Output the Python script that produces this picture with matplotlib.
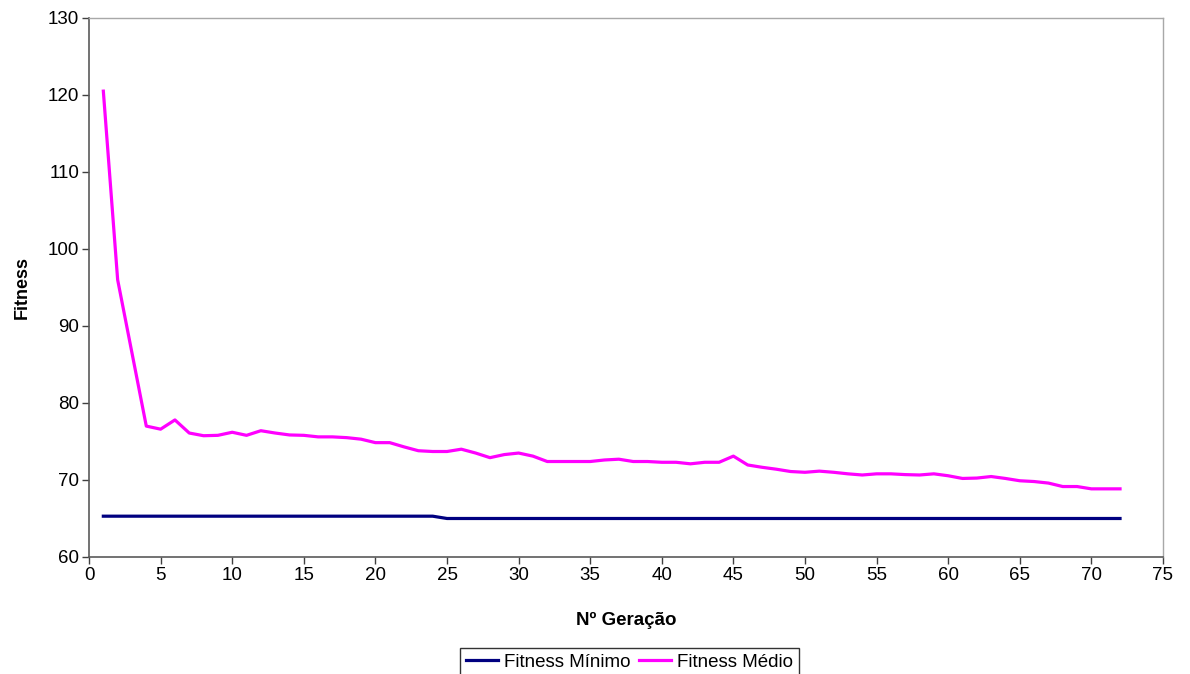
import numpy as np
import matplotlib.pyplot as plt

plt.rcParams['font.family'] = ['Liberation Sans', 'DejaVu Sans']

# Generations and fitness per generation
geracao = list(range(1, 73))

fitness_medio = [
    120.5, 96.0, 86.5, 77.0, 76.6, 77.8, 76.1, 75.75, 75.8, 76.2,
    75.8, 76.4, 76.1, 75.85, 75.8, 75.6, 75.6, 75.5, 75.3, 74.85,
    74.85, 74.3, 73.8, 73.7, 73.7, 74.0, 73.5, 72.9, 73.3, 73.5,
    73.1, 72.4, 72.4, 72.4, 72.4, 72.6, 72.7, 72.4, 72.4, 72.3,
    72.3, 72.1, 72.3, 72.3, 73.1, 71.95, 71.65, 71.4, 71.1, 71.0,
    71.15, 71.0, 70.8, 70.65, 70.8, 70.8, 70.7, 70.65, 70.8, 70.55,
    70.2, 70.25, 70.45, 70.2, 69.9, 69.8, 69.6, 69.15, 69.15, 68.85,
    68.85, 68.85,
]

fitness_minimo = [65.3] * 24 + [65.0] * 48

fig = plt.figure(figsize=(11.9, 6.74), dpi=100)
ax = fig.add_axes([0.0748, 0.1736, 0.9025, 0.7997])

ax.plot(geracao, fitness_minimo, color='#000080', lw=2.3, label='Fitness Mínimo')
ax.plot(geracao, fitness_medio, color='#ff00ff', lw=2.3, label='Fitness Médio')

ax.set_xlim(0, 75)
ax.set_ylim(60, 130)
ax.set_xticks(np.arange(0, 76, 5))
ax.set_yticks(np.arange(60, 131, 10))
ax.tick_params(direction='out', length=5, width=1, labelsize=13.5, color='#404040', pad=2)

for side in ['left', 'bottom']:
    ax.spines[side].set_color('#5a5a5a')
    ax.spines[side].set_linewidth(1.2)
for side in ['top', 'right']:
    ax.spines[side].set_color('#a8a8a8')
    ax.spines[side].set_linewidth(1.0)

ax.set_xlabel('Nº Geração', fontsize=13.5, fontweight='bold', labelpad=20)
ax.set_ylabel('Fitness', fontsize=13, fontweight='bold', labelpad=12)

leg = fig.legend(loc='upper center', bbox_to_anchor=(0.529, 0.0386), ncol=2,
                 fontsize=13.5, frameon=True, fancybox=False, edgecolor='black',
                 handlelength=1.7, handletextpad=0.3, columnspacing=0.5,
                 borderpad=0.3, borderaxespad=0)
leg.get_frame().set_linewidth(1.0)

plt.savefig('out.png', dpi=100)
